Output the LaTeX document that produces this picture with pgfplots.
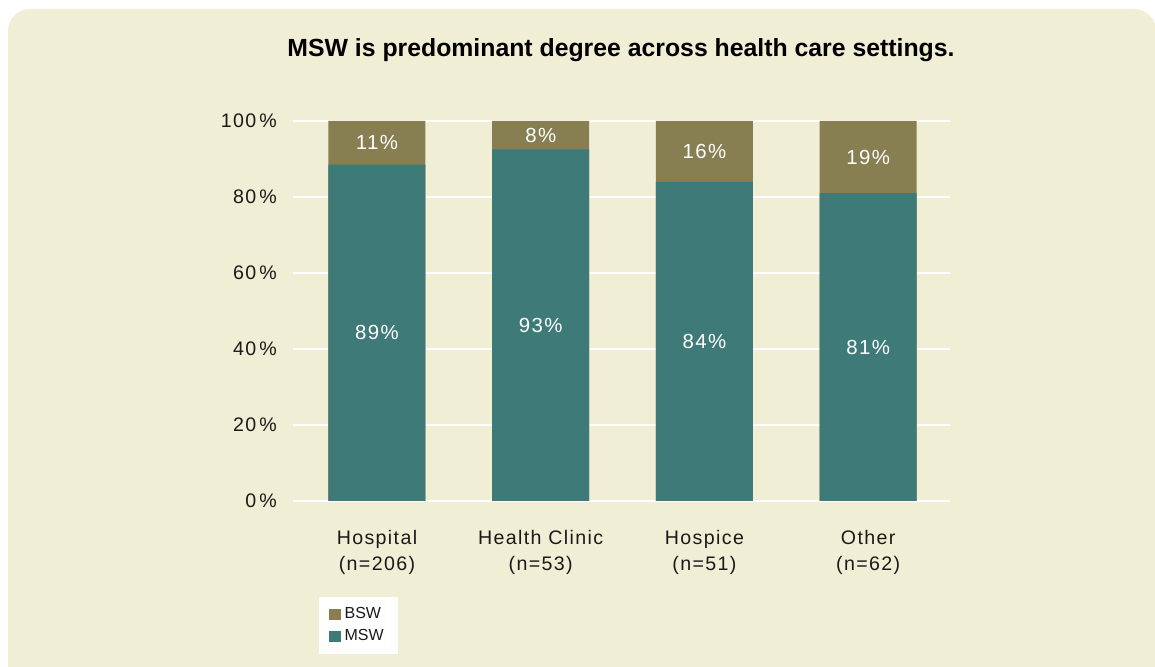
\documentclass[border=0pt]{standalone}
\usepackage{pgfplots}
\pgfplotsset{compat=1.18}
\usepackage{fontspec}
\setmainfont{Liberation Sans}
\newfontfamily\spaced[LetterSpace=7]{Liberation Sans}
\definecolor{bg}{HTML}{F0EED5}
\definecolor{teal}{HTML}{3E7A78}
\definecolor{olive}{HTML}{877F52}
\definecolor{txt}{HTML}{1A1A1A}
\begin{document}
\begin{tikzpicture}
\useasboundingbox (0,0) rectangle (577.5pt,333.5pt);
\clip (0,0) rectangle (577.5pt,333.5pt);
\fill[white] (0,0) rectangle (577.5pt,333.5pt);
\fill[bg, rounded corners=11pt] (4pt,-10pt) rectangle (578pt,329pt);
\node[font=\bfseries\fontsize{12.4}{14}\selectfont, text=black] at (310.5pt,308.5pt) {MSW is predominant degree across health care settings.};
\begin{axis}[
  at={(146.5pt,83pt)}, anchor=south west,
  scale only axis, width=328.5pt, height=190pt,
  xmin=-0.513, xmax=3.5, ymin=0, ymax=100,
  axis line style={draw=none},
  ytick={0,20,40,60,80,100},
  yticklabel={\pgfmathprintnumber{\tick}\,\%},
  /pgf/number format/assume math mode=true,
  ymajorgrids, grid style={white, line width=1.1pt},
  major tick length=0pt,
  xtick={0,1,2,3},
  xticklabels={{Hospital\\(n=206)},{Health Clinic\\(n=53)},{Hospice\\(n=51)},{Other\\(n=62)}},
  xticklabel style={align=center, font=\spaced\fontsize{9.8}{13}\selectfont, text=txt, yshift=-11pt},
  yticklabel style={font=\spaced\fontsize{9.8}{11}\selectfont, text=txt, xshift=-4.5pt},
  legend style={at={(0.0396,-0.2526)}, anchor=north west, draw=none, fill=white,
    font=\fontsize{8}{9}\selectfont, text=txt, row sep=0pt, inner xsep=5pt, inner ysep=3pt},
  legend cell align=left,
  clip=false,
]
\addplot[ybar, bar width=48.5pt, bar shift=0pt, fill=olive, draw=none,
  legend image code/.code={\fill[olive] (1pt,-2.8pt) rectangle (6.6pt,2.8pt);}]
  coordinates {(0,100) (1,100) (2,100) (3,100)};
\addlegendentry{BSW}
\addplot[ybar, bar width=48.5pt, bar shift=0pt, fill=teal, draw=none,
  legend image code/.code={\fill[teal] (1pt,-2.8pt) rectangle (6.6pt,2.8pt);}]
  coordinates {(0,88.5) (1,92.5) (2,84) (3,81)};
\addlegendentry{MSW}
\addplot[draw=none, mark=none, forget plot, nodes near coords, point meta=explicit symbolic,
  every node near coord/.append style={anchor=center, text=white, font=\spaced\fontsize{10.2}{11}\selectfont}]
  coordinates {(0,44.25)[89\%] (1,46.25)[93\%] (2,42)[84\%] (3,40.5)[81\%]
               (0,94.25)[11\%] (1,96.25)[8\%] (2,92)[16\%] (3,90.5)[19\%]};
\end{axis}
\end{tikzpicture}
\end{document}
